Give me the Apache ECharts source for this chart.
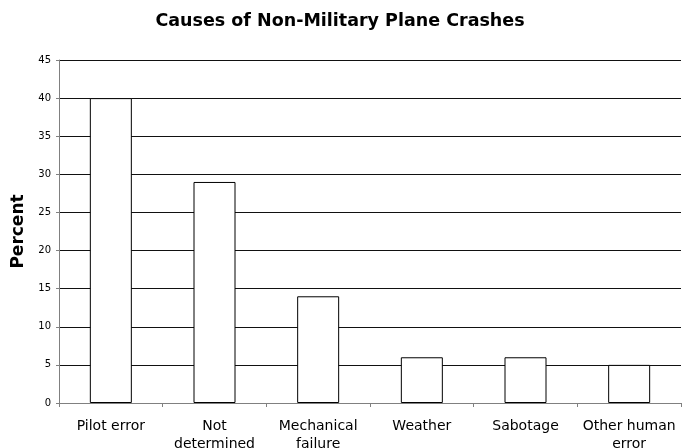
<!DOCTYPE html>
<html>
<head>
<meta charset="utf-8">
<script src="https://cdn.jsdelivr.net/npm/echarts@6/dist/echarts.min.js"></script>
<style>html,body{margin:0;padding:0;background:#fff}#c{width:687px;height:448px}</style>
</head>
<body>
<div id="c"></div>
<script>
const categories = ["Pilot error", "Not\ndetermined", "Mechanical\nfailure", "Weather", "Sabotage", "Other human\nerror"];
const values = [40, 29, 14, 6, 6, 5];
const yTicks = [0, 5, 10, 15, 20, 25, 30, 35, 40, 45];

const FONT = 'DejaVu Sans, Verdana, sans-serif';
const chart = echarts.init(document.getElementById('c'), null, {renderer: 'canvas'});
chart.setOption({
  animation: false,
  backgroundColor: '#fff',
  title: {
    text: 'Causes of Non-Military Plane Crashes',
    left: 335, top: 7, textAlign: 'center',
    textStyle: {fontFamily: FONT, fontSize: 17.5, fontWeight: 'bold', color: '#000'}
  },
  grid: {left: 59, right: 6, top: 60, bottom: 45, containLabel: false, outerBoundsMode: 'none'},
  xAxis: {
    type: 'category',
    data: categories,
    axisLine: {lineStyle: {color: '#808080', width: 1}},
    axisTick: {show: true, alignWithLabel: false, length: 4, lineStyle: {color: '#808080'}},
    axisLabel: {fontFamily: FONT, fontSize: 14, color: '#000', margin: 14, lineHeight: 18, interval: 0}
  },
  yAxis: {
    type: 'value',
    min: yTicks[0], max: yTicks[yTicks.length - 1], interval: 5,
    name: 'Percent',
    nameLocation: 'middle',
    nameGap: 31,
    nameRotate: 90,
    nameTextStyle: {fontFamily: FONT, fontSize: 17, fontWeight: 'bold', color: '#000'},
    axisLine: {show: true, lineStyle: {color: '#808080', width: 1}},
    axisTick: {show: true, length: 3, lineStyle: {color: '#808080'}},
    axisLabel: {fontFamily: FONT, fontSize: 10, color: '#000', margin: 8},
    splitLine: {show: true, lineStyle: {color: '#111', width: 1}}
  },
  series: [{
    type: 'bar',
    data: values,
    barWidth: 42,
    itemStyle: {color: '#fff', borderColor: '#000', borderWidth: 1}
  }]
});
</script>
</body>
</html>
